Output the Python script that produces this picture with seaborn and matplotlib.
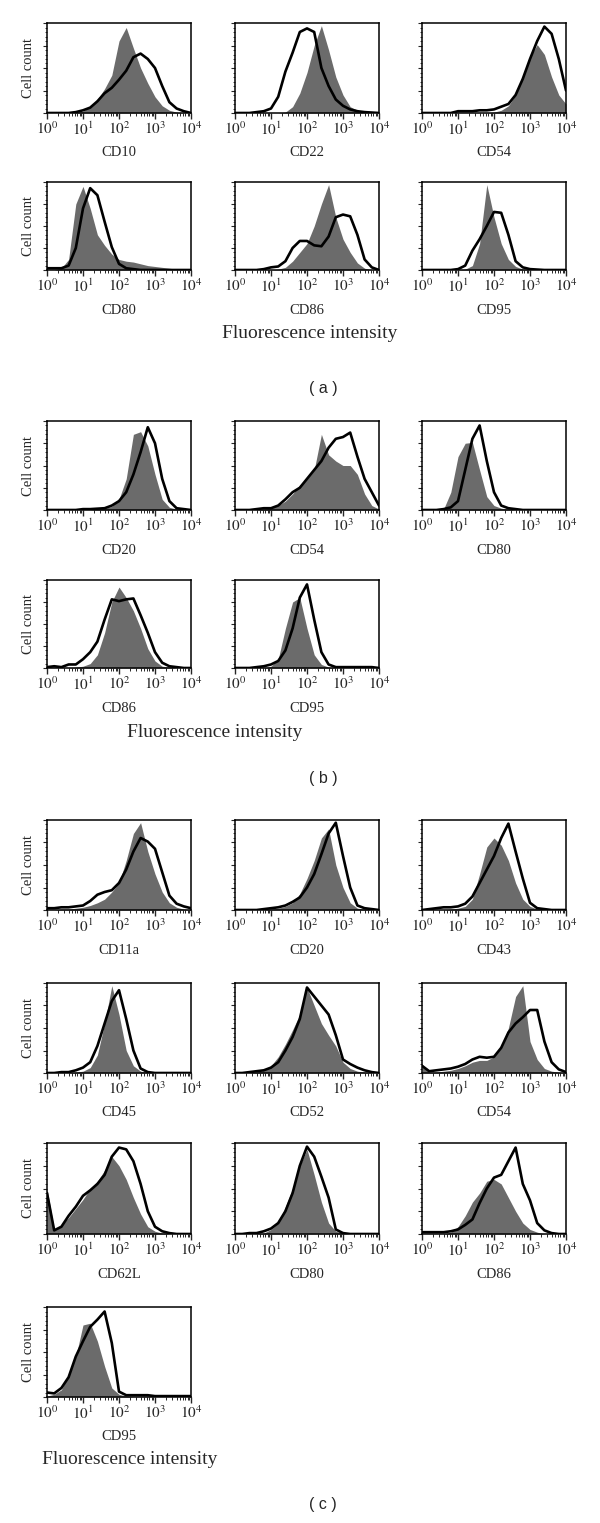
import numpy as np
import pandas as pd
import matplotlib.pyplot as plt
import seaborn as sns
from matplotlib.ticker import LogLocator, MultipleLocator, NullFormatter

sns.set_style('white')
plt.rcParams['font.family'] = ['Liberation Serif', 'DejaVu Serif']
plt.rcParams['mathtext.fontset'] = 'stix'

# channel positions (log10 of fluorescence intensity)
log_x = [0.0, 0.2, 0.4, 0.6, 0.8, 1.0, 1.2, 1.4, 1.6, 1.8, 2.0,
         2.2, 2.4, 2.6, 2.8, 3.0, 3.2, 3.4, 3.6, 3.8, 4.0]
tick_vals = [1, 10, 100, 1000, 10000]
tick_labels = [r'$10^{0}$', r'$10^{1}$', r'$10^{2}$', r'$10^{3}$', r'$10^{4}$']

# (a) gray = filled histogram, black = outline histogram
a_cd10_gray = [0, 0, 0, 0, 0.005, 0.02, 0.07, 0.15, 0.27, 0.42, 0.8, 0.95, 0.72, 0.5, 0.33, 0.18, 0.08, 0.03, 0.01, 0, 0]
a_cd10_black = [0, 0, 0, 0, 0.01, 0.03, 0.06, 0.13, 0.22, 0.28, 0.37, 0.47, 0.62, 0.66, 0.6, 0.5, 0.3, 0.12, 0.05, 0.02, 0]
a_cd22_gray = [0, 0, 0, 0, 0, 0, 0, 0.01, 0.07, 0.22, 0.45, 0.75, 0.97, 0.7, 0.4, 0.2, 0.07, 0.03, 0.01, 0, 0]
a_cd22_black = [0, 0, 0, 0.01, 0.02, 0.05, 0.18, 0.46, 0.67, 0.9, 0.94, 0.9, 0.5, 0.3, 0.15, 0.08, 0.04, 0.02, 0.01, 0.005, 0]
a_cd54_gray = [0, 0, 0, 0, 0, 0, 0, 0, 0, 0, 0.01, 0.03, 0.08, 0.2, 0.4, 0.62, 0.76, 0.65, 0.4, 0.2, 0.1]
a_cd54_black = [0, 0, 0, 0, 0, 0.02, 0.02, 0.02, 0.03, 0.03, 0.04, 0.07, 0.1, 0.2, 0.38, 0.6, 0.8, 0.96, 0.88, 0.6, 0.25]
a_cd80_gray = [0, 0, 0.02, 0.12, 0.75, 0.95, 0.7, 0.4, 0.28, 0.18, 0.12, 0.1, 0.09, 0.07, 0.05, 0.04, 0.03, 0.02, 0.01, 0.01, 0]
a_cd80_black = [0.02, 0.02, 0.02, 0.05, 0.25, 0.7, 0.93, 0.85, 0.55, 0.26, 0.07, 0.02, 0.01, 0, 0, 0, 0, 0, 0, 0, 0]
a_cd86_gray = [0, 0, 0, 0, 0, 0, 0.01, 0.03, 0.1, 0.2, 0.3, 0.5, 0.75, 0.97, 0.6, 0.35, 0.2, 0.08, 0.02, 0, 0]
a_cd86_black = [0, 0, 0, 0, 0.01, 0.03, 0.04, 0.1, 0.25, 0.33, 0.33, 0.28, 0.27, 0.38, 0.6, 0.63, 0.61, 0.4, 0.12, 0.03, 0]
a_cd95_gray = [0, 0, 0, 0, 0, 0, 0.01, 0.05, 0.3, 0.97, 0.6, 0.3, 0.12, 0.04, 0.01, 0, 0, 0, 0, 0, 0]
a_cd95_black = [0, 0, 0, 0, 0, 0.01, 0.05, 0.22, 0.35, 0.5, 0.66, 0.65, 0.4, 0.1, 0.03, 0.01, 0.005, 0, 0, 0, 0]

# (b)
b_cd20_gray = [0, 0, 0, 0, 0, 0, 0, 0.01, 0.02, 0.04, 0.12, 0.35, 0.85, 0.88, 0.72, 0.4, 0.12, 0.03, 0.01, 0, 0]
b_cd20_black = [0, 0, 0, 0, 0, 0.01, 0.01, 0.015, 0.02, 0.05, 0.1, 0.2, 0.4, 0.65, 0.93, 0.75, 0.35, 0.1, 0.02, 0.01, 0]
b_cd54_gray = [0, 0, 0, 0, 0.01, 0.02, 0.05, 0.1, 0.18, 0.28, 0.35, 0.45, 0.85, 0.62, 0.55, 0.5, 0.5, 0.4, 0.18, 0.05, 0.01]
b_cd54_black = [0, 0, 0, 0.01, 0.02, 0.02, 0.05, 0.12, 0.2, 0.25, 0.35, 0.45, 0.55, 0.7, 0.8, 0.82, 0.87, 0.6, 0.35, 0.2, 0.05]
b_cd80_gray = [0, 0, 0, 0.01, 0.2, 0.6, 0.75, 0.76, 0.45, 0.15, 0.05, 0.02, 0.01, 0, 0, 0, 0, 0, 0, 0, 0]
b_cd80_black = [0, 0, 0, 0.01, 0.03, 0.1, 0.45, 0.8, 0.95, 0.55, 0.2, 0.05, 0.02, 0.01, 0, 0, 0, 0, 0, 0, 0]
b_cd86_gray = [0, 0, 0, 0, 0.01, 0.02, 0.05, 0.15, 0.4, 0.75, 0.92, 0.8, 0.65, 0.45, 0.22, 0.08, 0.02, 0.01, 0, 0, 0]
b_cd86_black = [0.01, 0.02, 0.01, 0.04, 0.04, 0.1, 0.18, 0.3, 0.55, 0.78, 0.76, 0.78, 0.79, 0.6, 0.4, 0.18, 0.06, 0.02, 0.01, 0, 0]
b_cd95_gray = [0, 0, 0, 0, 0, 0.02, 0.1, 0.45, 0.75, 0.8, 0.45, 0.15, 0.04, 0.01, 0, 0, 0, 0, 0, 0, 0]
b_cd95_black = [0, 0, 0, 0.01, 0.02, 0.04, 0.08, 0.2, 0.45, 0.8, 0.95, 0.55, 0.18, 0.04, 0.01, 0.01, 0.01, 0.01, 0.01, 0.01, 0]

# (c)
c_cd11a_gray = [0, 0, 0.01, 0.01, 0.02, 0.03, 0.05, 0.08, 0.12, 0.2, 0.3, 0.55, 0.85, 0.97, 0.65, 0.4, 0.2, 0.08, 0.03, 0.01, 0]
c_cd11a_black = [0.02, 0.02, 0.03, 0.03, 0.04, 0.05, 0.1, 0.17, 0.2, 0.22, 0.3, 0.45, 0.65, 0.8, 0.76, 0.68, 0.42, 0.16, 0.07, 0.04, 0.02]
c_cd20_gray = [0, 0, 0, 0, 0, 0.01, 0.02, 0.04, 0.08, 0.18, 0.35, 0.55, 0.8, 0.9, 0.5, 0.25, 0.08, 0.02, 0.01, 0, 0]
c_cd20_black = [0, 0, 0, 0, 0.01, 0.02, 0.03, 0.05, 0.09, 0.14, 0.25, 0.4, 0.62, 0.85, 0.97, 0.6, 0.25, 0.05, 0.02, 0.01, 0]
c_cd43_gray = [0, 0, 0, 0, 0.01, 0.02, 0.04, 0.12, 0.4, 0.7, 0.8, 0.72, 0.55, 0.3, 0.12, 0.04, 0.01, 0, 0, 0, 0]
c_cd43_black = [0, 0.01, 0.02, 0.03, 0.03, 0.04, 0.07, 0.15, 0.3, 0.45, 0.6, 0.8, 0.96, 0.65, 0.35, 0.08, 0.02, 0.01, 0, 0, 0]
c_cd45_gray = [0, 0, 0, 0, 0.01, 0.02, 0.06, 0.2, 0.55, 0.97, 0.65, 0.25, 0.08, 0.02, 0.01, 0, 0, 0, 0, 0, 0]
c_cd45_black = [0, 0, 0.01, 0.01, 0.03, 0.06, 0.12, 0.3, 0.55, 0.8, 0.92, 0.6, 0.25, 0.05, 0.01, 0, 0, 0, 0, 0, 0]
c_cd52_gray = [0, 0, 0, 0.01, 0.03, 0.08, 0.18, 0.32, 0.48, 0.65, 0.95, 0.75, 0.55, 0.42, 0.3, 0.12, 0.05, 0.02, 0.01, 0, 0]
c_cd52_black = [0, 0, 0.01, 0.02, 0.03, 0.06, 0.12, 0.25, 0.4, 0.6, 0.95, 0.85, 0.75, 0.65, 0.42, 0.15, 0.1, 0.06, 0.03, 0.01, 0]
c_cd54_gray = [0.1, 0.01, 0.01, 0.02, 0.03, 0.05, 0.08, 0.12, 0.14, 0.14, 0.18, 0.28, 0.5, 0.85, 0.97, 0.35, 0.15, 0.05, 0.02, 0.01, 0]
c_cd54_black = [0.08, 0.02, 0.03, 0.04, 0.05, 0.07, 0.1, 0.15, 0.18, 0.17, 0.18, 0.28, 0.45, 0.55, 0.62, 0.7, 0.7, 0.35, 0.12, 0.04, 0.01]
c_cd62l_gray = [0.5, 0.05, 0.1, 0.18, 0.28, 0.38, 0.5, 0.58, 0.7, 0.85, 0.75, 0.6, 0.4, 0.22, 0.08, 0.03, 0.01, 0, 0, 0, 0]
c_cd62l_black = [0.45, 0.04, 0.08, 0.2, 0.3, 0.42, 0.48, 0.55, 0.65, 0.85, 0.95, 0.93, 0.8, 0.55, 0.25, 0.08, 0.03, 0.01, 0, 0, 0]
c_cd80_gray = [0, 0, 0, 0, 0.01, 0.05, 0.12, 0.3, 0.5, 0.75, 0.93, 0.65, 0.35, 0.12, 0.03, 0.01, 0, 0, 0, 0, 0]
c_cd80_black = [0, 0, 0.01, 0.01, 0.03, 0.06, 0.12, 0.25, 0.45, 0.75, 0.96, 0.85, 0.63, 0.4, 0.05, 0.01, 0, 0, 0, 0, 0]
c_cd86_gray = [0, 0, 0, 0, 0.02, 0.08, 0.2, 0.35, 0.45, 0.58, 0.6, 0.55, 0.4, 0.25, 0.12, 0.05, 0.02, 0, 0, 0, 0]
c_cd86_black = [0.02, 0.02, 0.02, 0.02, 0.03, 0.05, 0.1, 0.16, 0.34, 0.5, 0.62, 0.65, 0.8, 0.95, 0.55, 0.37, 0.12, 0.04, 0.01, 0, 0]
c_cd95_gray = [0.01, 0.03, 0.08, 0.25, 0.45, 0.8, 0.82, 0.62, 0.34, 0.1, 0.03, 0.01, 0, 0, 0, 0, 0, 0, 0, 0, 0]
c_cd95_black = [0.05, 0.04, 0.1, 0.22, 0.45, 0.62, 0.78, 0.86, 0.95, 0.6, 0.06, 0.02, 0.02, 0.02, 0.02, 0.01, 0.01, 0.01, 0.01, 0.01, 0.01]

W, H = 600, 1523
GRAY = '#6b6b6b'
cols = [(47, 191), (235, 379), (422, 566)]
rows = {'a1': (23, 113), 'a2': (182, 270), 'b1': (421, 510), 'b2': (580, 668),
        'c1': (820, 910), 'c2': (983, 1073), 'c3': (1143, 1234), 'c4': (1307, 1397)}

panels = [
    ('a1', 0, 'CD10', a_cd10_gray, a_cd10_black),
    ('a1', 1, 'CD22', a_cd22_gray, a_cd22_black),
    ('a1', 2, 'CD54', a_cd54_gray, a_cd54_black),
    ('a2', 0, 'CD80', a_cd80_gray, a_cd80_black),
    ('a2', 1, 'CD86', a_cd86_gray, a_cd86_black),
    ('a2', 2, 'CD95', a_cd95_gray, a_cd95_black),
    ('b1', 0, 'CD20', b_cd20_gray, b_cd20_black),
    ('b1', 1, 'CD54', b_cd54_gray, b_cd54_black),
    ('b1', 2, 'CD80', b_cd80_gray, b_cd80_black),
    ('b2', 0, 'CD86', b_cd86_gray, b_cd86_black),
    ('b2', 1, 'CD95', b_cd95_gray, b_cd95_black),
    ('c1', 0, 'CD11a', c_cd11a_gray, c_cd11a_black),
    ('c1', 1, 'CD20', c_cd20_gray, c_cd20_black),
    ('c1', 2, 'CD43', c_cd43_gray, c_cd43_black),
    ('c2', 0, 'CD45', c_cd45_gray, c_cd45_black),
    ('c2', 1, 'CD52', c_cd52_gray, c_cd52_black),
    ('c2', 2, 'CD54', c_cd54_gray, c_cd54_black),
    ('c3', 0, 'CD62L', c_cd62l_gray, c_cd62l_black),
    ('c3', 1, 'CD80', c_cd80_gray, c_cd80_black),
    ('c3', 2, 'CD86', c_cd86_gray, c_cd86_black),
    ('c4', 0, 'CD95', c_cd95_gray, c_cd95_black),
]

fig = plt.figure(figsize=(W / 100, H / 100), dpi=100)
intensity = 10 ** np.array(log_x)

for row, col, name, gray, black in panels:
    x0, x1 = cols[col]
    y0, y1 = rows[row]
    ax = fig.add_axes([x0 / W, 1 - y1 / H, (x1 - x0) / W, (y1 - y0) / H])
    df = pd.DataFrame({'intensity': intensity, 'gray': gray, 'black': black})
    ax.fill_between(df['intensity'], df['gray'], color=GRAY, lw=0)
    sns.lineplot(data=df, x='intensity', y='black', color='black', lw=1.9, ax=ax)
    ax.set_xscale('log')
    ax.set_xlim(1, 10000)
    ax.set_ylim(0, 1.0)
    ax.set_xticks(tick_vals)
    ax.set_xticklabels(tick_labels)
    ax.xaxis.set_minor_locator(LogLocator(base=10, subs=np.arange(2, 10), numticks=20))
    ax.xaxis.set_minor_formatter(NullFormatter())
    ax.yaxis.set_major_locator(MultipleLocator(0.25))
    ax.yaxis.set_minor_locator(MultipleLocator(0.05))
    ax.set_xlabel('')
    ax.set_ylabel('')
    ax.tick_params(axis='x', which='major', direction='out', length=4, width=1,
                   labelsize=11, pad=1.5, bottom=True)
    ax.tick_params(axis='x', which='minor', direction='out', length=2, width=0.7, bottom=True)
    ax.tick_params(axis='y', which='major', direction='out', length=3, width=0.8,
                   labelleft=False, left=True)
    ax.tick_params(axis='y', which='minor', direction='out', length=1.5, width=0.6, left=True)
    for sp in ax.spines.values():
        sp.set_color('black')
        sp.set_linewidth(1.1)
    fig.text((x0 + x1) / 2 / W, 1 - (y1 + 40) / H, name, ha='center', va='center', fontsize=10.5)
    if col == 0:
        fig.text(28 / W, 1 - (y0 + y1) / 2 / H, 'Cell count', rotation=90,
                 ha='center', va='center', fontsize=10.5)

# axis titles and panel letters
fig.text(310 / W, 1 - 333 / H, 'Fluorescence intensity', ha='center', va='center', fontsize=14)
fig.text(215 / W, 1 - 732 / H, 'Fluorescence intensity', ha='center', va='center', fontsize=14)
fig.text(130 / W, 1 - 1460 / H, 'Fluorescence intensity', ha='center', va='center', fontsize=14)
for lab, yy in [('( a )', 389), ('( b )', 778), ('( c )', 1505)]:
    fig.text(323 / W, 1 - yy / H, lab, ha='center', va='center', fontsize=11.5,
             family=['Liberation Sans', 'DejaVu Sans'])

fig.savefig('out.png', dpi=100)
